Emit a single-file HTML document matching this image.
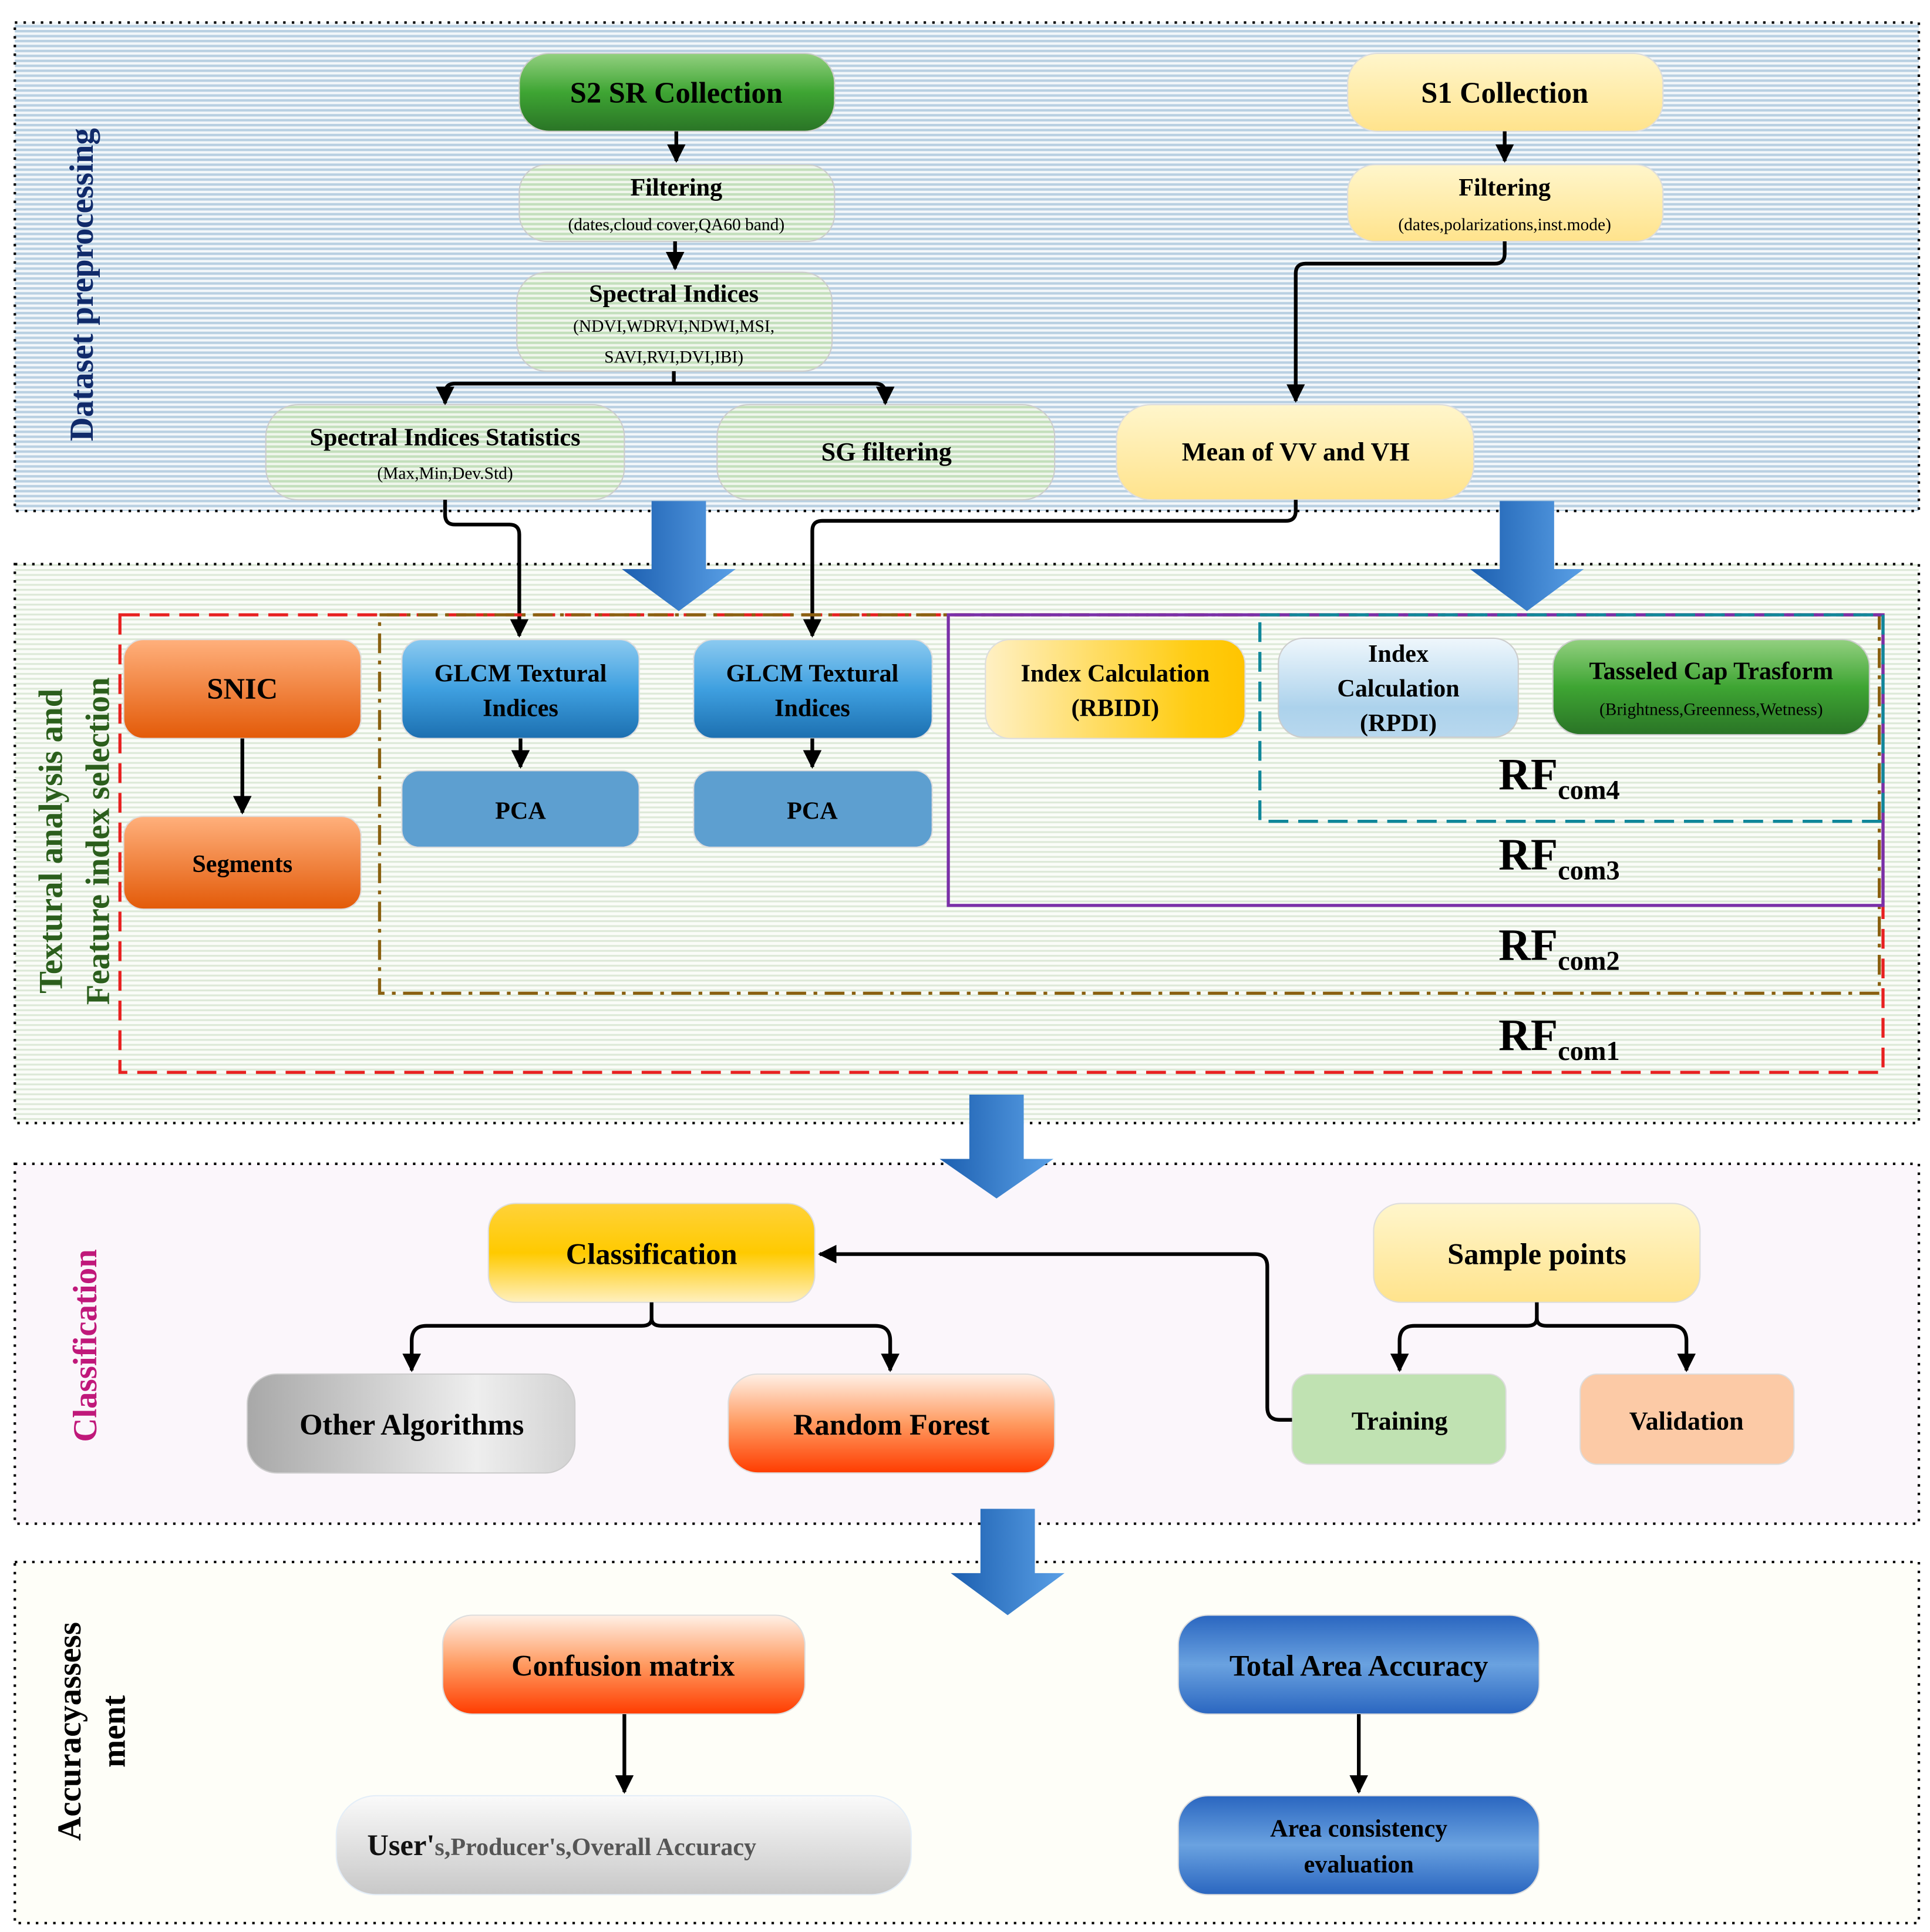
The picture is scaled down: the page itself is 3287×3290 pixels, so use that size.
<!DOCTYPE html>
<html><head><meta charset="utf-8"><style>html,body{margin:0;padding:0;background:#fff}svg{display:block}text{font-family:"Liberation Serif",serif;font-weight:bold}</style></head><body>
<svg width="3287" height="3290" viewBox="0 0 1561 1562" xmlns="http://www.w3.org/2000/svg">
<defs>
<pattern id="pb" width="4" height="4" patternUnits="userSpaceOnUse"><rect width="4" height="4" fill="#f3f7fa"/><rect width="4" height="2" fill="#b9d0e2"/></pattern>
<pattern id="pg" width="4" height="4" patternUnits="userSpaceOnUse"><rect width="4" height="4" fill="#fafcf8"/><rect width="4" height="1.5" fill="#dde9d8"/></pattern>
<pattern id="pn" width="4" height="4" patternUnits="userSpaceOnUse"><rect width="4" height="4" fill="#f0f6ec"/><rect width="4" height="2" fill="#c3dfbc"/></pattern>
<linearGradient id="gG" x1="0" y1="0" x2="0" y2="1"><stop offset="0" stop-color="#93d080"/><stop offset=".5" stop-color="#3ea533"/><stop offset="1" stop-color="#2a7426"/></linearGradient>
<linearGradient id="gY" x1="0" y1="0" x2="0" y2="1"><stop offset="0" stop-color="#fff6cc"/><stop offset="1" stop-color="#ffe38c"/></linearGradient>
<linearGradient id="gO" x1="0" y1="0" x2="0" y2="1"><stop offset="0" stop-color="#ffb07c"/><stop offset="1" stop-color="#e35a08"/></linearGradient>
<linearGradient id="gB" x1="0" y1="0" x2="0" y2="1"><stop offset="0" stop-color="#8ccaf0"/><stop offset=".5" stop-color="#3fa0e0"/><stop offset="1" stop-color="#1c6fb0"/></linearGradient>
<linearGradient id="gGold" x1="0" y1="0" x2="1" y2="0"><stop offset="0" stop-color="#fff0c4"/><stop offset=".8" stop-color="#ffcc10"/><stop offset="1" stop-color="#ffc400"/></linearGradient>
<linearGradient id="gLB" x1="0" y1="0" x2="0" y2="1"><stop offset="0" stop-color="#eff7fc"/><stop offset=".7" stop-color="#acd2ec"/><stop offset="1" stop-color="#b8d8ee"/></linearGradient>
<linearGradient id="gC" x1="0" y1="0" x2="0" y2="1"><stop offset="0" stop-color="#ffd23a"/><stop offset=".5" stop-color="#ffca00"/><stop offset="1" stop-color="#fff0c0"/></linearGradient>
<linearGradient id="gGray" x1="0" y1="0" x2="1" y2="0"><stop offset="0" stop-color="#a8a8a8"/><stop offset=".7" stop-color="#eeeeee"/><stop offset="1" stop-color="#d2d2d2"/></linearGradient>
<linearGradient id="gR" x1="0" y1="0" x2="0" y2="1"><stop offset="0" stop-color="#fff0e6"/><stop offset=".5" stop-color="#ff9a60"/><stop offset="1" stop-color="#ff3c00"/></linearGradient>
<linearGradient id="gLG" x1="0" y1="0" x2="0" y2="1"><stop offset="0" stop-color="#fafafa"/><stop offset="1" stop-color="#c8c8c8"/></linearGradient>
<linearGradient id="gDB" x1="0" y1="0" x2="0" y2="1"><stop offset="0" stop-color="#2a66c0"/><stop offset=".5" stop-color="#6aa2e0"/><stop offset="1" stop-color="#2a66c0"/></linearGradient>
<linearGradient id="gArr" x1="0" y1="0" x2="1" y2="0"><stop offset="0" stop-color="#1c5fb0"/><stop offset="1" stop-color="#5aa0e6"/></linearGradient>
<marker id="ah" viewBox="0 0 10 10" refX="9" refY="5" markerWidth="5" markerHeight="5" orient="auto-start-reverse"><path d="M0,0L10,5L0,10z" fill="#000"/></marker>
</defs>
<rect width="1561" height="1562" fill="#fff"/>
<!-- sections -->
<rect x="12" y="18" width="1540" height="395" fill="url(#pb)" stroke="#000" stroke-width="2" stroke-dasharray="2,5"/>
<rect x="12" y="456" width="1540" height="452" fill="url(#pg)" stroke="#000" stroke-width="2" stroke-dasharray="2,5"/>
<rect x="12" y="941" width="1540" height="291" fill="#fbf6fb" stroke="#000" stroke-width="2" stroke-dasharray="2,5"/>
<rect x="12" y="1263" width="1540" height="292" fill="#fefef8" stroke="#000" stroke-width="2" stroke-dasharray="2,5"/>
<!-- side labels -->
<text transform="translate(75,230) rotate(-90)" text-anchor="middle" font-size="27" fill="#102a6a">Dataset preprocessing</text>
<text transform="translate(50,680) rotate(-90)" text-anchor="middle" font-size="27" fill="#2b5e1c">Textural analysis and</text>
<text transform="translate(88,680) rotate(-90)" text-anchor="middle" font-size="27" fill="#2b5e1c">Feature index selection</text>
<text transform="translate(78,1088) rotate(-90)" text-anchor="middle" font-size="27" fill="#c0187a">Classification</text>
<text transform="translate(65,1400) rotate(-90)" text-anchor="middle" font-size="27" fill="#000">Accuracyassess</text>
<text transform="translate(101,1400) rotate(-90)" text-anchor="middle" font-size="27" fill="#000">ment</text>
<!-- big arrows -->
<g fill="url(#gArr)">
<path d="M527,405h44v55h24l-46,34l-46,-34h24z"/>
<path d="M1213,405h44v55h24l-46,34l-46,-34h24z"/>
<path d="M784,885h44v52h24l-46,32l-46,-32h24z"/>
<path d="M793,1220h44v52h24l-46,34l-46,-34h24z"/>
</g>
<!-- section 1 nodes -->
<rect x="420" y="43" width="255" height="63" rx="24" fill="url(#gG)" stroke="#ccc"/>
<text x="547" y="83" text-anchor="middle" font-size="24">S2 SR Collection</text>
<rect x="420" y="133" width="255" height="62" rx="22" fill="url(#pn)" stroke="#ccc"/>
<text x="547" y="158" text-anchor="middle" font-size="20">Filtering</text>
<text x="547" y="186" text-anchor="middle" font-size="14" font-weight="normal" style="font-weight:normal">(dates,cloud cover,QA60 band)</text>
<rect x="418" y="220" width="255" height="80" rx="24" fill="url(#pn)" stroke="#ccc"/>
<text x="545" y="244" text-anchor="middle" font-size="20">Spectral Indices</text>
<text x="545" y="268" text-anchor="middle" font-size="14" style="font-weight:normal">(NDVI,WDRVI,NDWI,MSI,</text>
<text x="545" y="293" text-anchor="middle" font-size="14" style="font-weight:normal">SAVI,RVI,DVI,IBI)</text>
<rect x="215" y="327" width="290" height="77" rx="26" fill="url(#pn)" stroke="#ccc"/>
<text x="360" y="360" text-anchor="middle" font-size="20">Spectral Indices Statistics</text>
<text x="360" y="387" text-anchor="middle" font-size="14" style="font-weight:normal">(Max,Min,Dev.Std)</text>
<rect x="580" y="327" width="273" height="77" rx="26" fill="url(#pn)" stroke="#ccc"/>
<text x="717" y="372" text-anchor="middle" font-size="21">SG filtering</text>
<rect x="1090" y="43" width="255" height="63" rx="24" fill="url(#gY)" stroke="#ddd"/>
<text x="1217" y="83" text-anchor="middle" font-size="24">S1 Collection</text>
<rect x="1090" y="133" width="255" height="62" rx="22" fill="url(#gY)" stroke="#ddd"/>
<text x="1217" y="158" text-anchor="middle" font-size="20">Filtering</text>
<text x="1217" y="186" text-anchor="middle" font-size="14" style="font-weight:normal">(dates,polarizations,inst.mode)</text>
<rect x="903" y="327" width="289" height="77" rx="28" fill="url(#gY)" stroke="#ddd"/>
<text x="1048" y="372" text-anchor="middle" font-size="21">Mean of VV and VH</text>
<!-- section 1 connectors -->
<g stroke="#000" stroke-width="3" fill="none">
<path d="M547,106V130" marker-end="url(#ah)"/>
<path d="M546,195V217" marker-end="url(#ah)"/>
<path d="M545,300V310M360,324V318q0,-8 8,-8H708q8,0 8,8V324" />
<path d="M360,318v8" marker-end="url(#ah)"/><path d="M716,318v8" marker-end="url(#ah)"/>
<path d="M1217,106V130" marker-end="url(#ah)"/>
<path d="M1217,195V205q0,8 -8,8H1056q-8,0 -8,8V324" marker-end="url(#ah)"/>
<path d="M360,404V416q0,8 8,8H412q8,0 8,8V514" marker-end="url(#ah)"/>
<path d="M1048,404V413q0,8 -8,8H665q-8,0 -8,8V514" marker-end="url(#ah)"/>
</g>
<!-- section 2 frames -->
<rect x="97" y="497" width="1426" height="370" fill="none" stroke="#e82020" stroke-width="2.5" stroke-dasharray="16,8"/>
<rect x="307" y="497" width="1213" height="306" fill="none" stroke="#8a6010" stroke-width="2.5" stroke-dasharray="16,6,3,6"/>
<rect x="767" y="497" width="756" height="235" fill="none" stroke="#7a30a8" stroke-width="2.5"/>
<rect x="1019" y="497" width="504" height="167" fill="none" stroke="#10879a" stroke-width="2.5" stroke-dasharray="16,8"/>
<!-- section 2 nodes -->
<rect x="100" y="517" width="192" height="80" rx="16" fill="url(#gO)" stroke="#ddd"/>
<text x="196" y="565" text-anchor="middle" font-size="24">SNIC</text>
<rect x="100" y="660" width="192" height="75" rx="16" fill="url(#gO)" stroke="#ddd"/>
<text x="196" y="705" text-anchor="middle" font-size="20">Segments</text>
<rect x="325" y="517" width="192" height="80" rx="16" fill="url(#gB)" stroke="#ddd"/>
<text x="421" y="551" text-anchor="middle" font-size="20">GLCM Textural</text>
<text x="421" y="579" text-anchor="middle" font-size="20">Indices</text>
<rect x="325" y="623" width="192" height="62" rx="14" fill="#5d9fd0" stroke="#ddd"/>
<text x="421" y="662" text-anchor="middle" font-size="20">PCA</text>
<rect x="561" y="517" width="193" height="80" rx="16" fill="url(#gB)" stroke="#ddd"/>
<text x="657" y="551" text-anchor="middle" font-size="20">GLCM Textural</text>
<text x="657" y="579" text-anchor="middle" font-size="20">Indices</text>
<rect x="561" y="623" width="193" height="62" rx="14" fill="#5d9fd0" stroke="#ddd"/>
<text x="657" y="662" text-anchor="middle" font-size="20">PCA</text>
<rect x="797" y="517" width="210" height="80" rx="20" fill="url(#gGold)" stroke="#ddd"/>
<text x="902" y="551" text-anchor="middle" font-size="20">Index Calculation</text>
<text x="902" y="579" text-anchor="middle" font-size="20">(RBIDI)</text>
<rect x="1034" y="516" width="194" height="80" rx="20" fill="url(#gLB)" stroke="#ccc"/>
<text x="1131" y="535" text-anchor="middle" font-size="20">Index</text>
<text x="1131" y="563" text-anchor="middle" font-size="20">Calculation</text>
<text x="1131" y="591" text-anchor="middle" font-size="20">(RPDI)</text>
<rect x="1256" y="517" width="256" height="77" rx="22" fill="url(#gG)" stroke="#ccc"/>
<text x="1384" y="549" text-anchor="middle" font-size="20">Tasseled Cap Trasform</text>
<text x="1384" y="578" text-anchor="middle" font-size="14" style="font-weight:normal">(Brightness,Greenness,Wetness)</text>
<g stroke="#000" stroke-width="3" fill="none">
<path d="M196,597V657" marker-end="url(#ah)"/>
<path d="M421,597V620" marker-end="url(#ah)"/>
<path d="M657,597V620" marker-end="url(#ah)"/>
</g>
<g font-size="36"><text x="1212" y="638">RF<tspan font-size="22" dy="8">com4</tspan></text>
<text x="1212" y="703">RF<tspan font-size="22" dy="8">com3</tspan></text>
<text x="1212" y="776">RF<tspan font-size="22" dy="8">com2</tspan></text>
<text x="1212" y="849">RF<tspan font-size="22" dy="8">com1</tspan></text></g>
<!-- section 3 -->
<rect x="395" y="973" width="264" height="80" rx="22" fill="url(#gC)" stroke="#ddd"/>
<text x="527" y="1022" text-anchor="middle" font-size="24">Classification</text>
<rect x="200" y="1111" width="265" height="80" rx="24" fill="url(#gGray)" stroke="#ccc"/>
<text x="333" y="1160" text-anchor="middle" font-size="24">Other Algorithms</text>
<rect x="589" y="1111" width="264" height="80" rx="24" fill="url(#gR)" stroke="#ddd"/>
<text x="721" y="1160" text-anchor="middle" font-size="24">Random Forest</text>
<rect x="1111" y="973" width="264" height="80" rx="22" fill="url(#gY)" stroke="#ddd"/>
<text x="1243" y="1022" text-anchor="middle" font-size="24">Sample points</text>
<rect x="1045" y="1111" width="173" height="73" rx="14" fill="#c0e2b2" stroke="#ddd"/>
<text x="1132" y="1156" text-anchor="middle" font-size="21">Training</text>
<rect x="1278" y="1111" width="173" height="73" rx="14" fill="#fccaa6" stroke="#ddd"/>
<text x="1364" y="1156" text-anchor="middle" font-size="21">Validation</text>
<g stroke="#000" stroke-width="3" fill="none">
<path d="M527,1053V1066q0,6 -8,6H345q-12,0 -12,12V1108" marker-end="url(#ah)"/>
<path d="M527,1066q0,6 8,6H708q12,0 12,12V1108" marker-end="url(#ah)"/>
<path d="M1243,1053V1066q0,6 -8,6H1144q-12,0 -12,12V1108" marker-end="url(#ah)"/>
<path d="M1243,1066q0,6 8,6H1352q12,0 12,12V1108" marker-end="url(#ah)"/>
<path d="M1045,1148H1035q-10,0 -10,-10V1024q0,-10 -10,-10H663" marker-end="url(#ah)"/>
</g>
<!-- section 4 -->
<rect x="358" y="1306" width="293" height="80" rx="24" fill="url(#gR)" stroke="#ddd"/>
<text x="504" y="1355" text-anchor="middle" font-size="24">Confusion matrix</text>
<rect x="272" y="1452" width="465" height="80" rx="32" fill="url(#gLG)" stroke="#e4eef8"/>
<text x="297" y="1500" font-size="24" fill="#111">User'<tspan font-size="20" fill="#555">s,Producer's,Overall Accuracy</tspan></text>
<rect x="953" y="1306" width="292" height="80" rx="24" fill="url(#gDB)" stroke="#ddd"/>
<text x="1099" y="1355" text-anchor="middle" font-size="24">Total Area Accuracy</text>
<rect x="953" y="1452" width="292" height="80" rx="24" fill="url(#gDB)" stroke="#ddd"/>
<text x="1099" y="1485" text-anchor="middle" font-size="20">Area consistency</text>
<text x="1099" y="1514" text-anchor="middle" font-size="20">evaluation</text>
<g stroke="#000" stroke-width="3" fill="none">
<path d="M505,1386V1449" marker-end="url(#ah)"/>
<path d="M1099,1386V1449" marker-end="url(#ah)"/>
</g>
</svg>
</body></html>
